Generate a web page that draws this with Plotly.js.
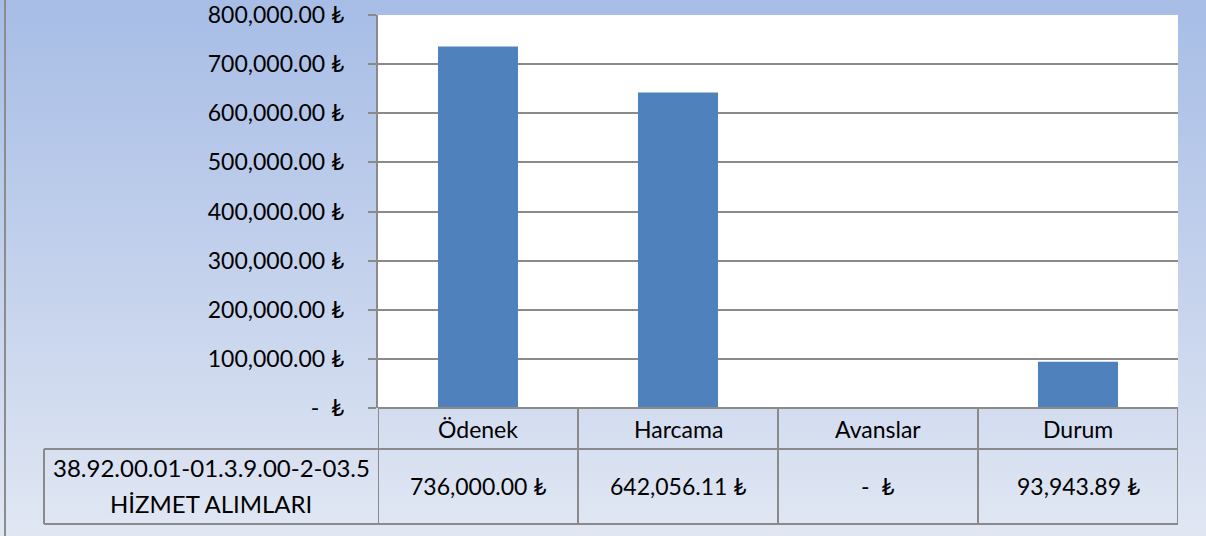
<!DOCTYPE html>
<html>
<head>
<meta charset="utf-8">
<script src="https://cdn.plot.ly/plotly-3.0.1.min.js"></script>
<style>
html,body{margin:0;padding:0;}
#wrap{position:relative;width:1206px;height:536px;background:linear-gradient(to bottom,#a7bde6 0%,#c3d1ec 50%,#e1e7f3 100%);}
#wrap:before{content:"";position:absolute;left:4px;top:0;width:2px;height:536px;background:#8c8c8c;}
#chart{position:absolute;left:0;top:0;width:1206px;height:536px;}
</style>
</head>
<body>
<div id="wrap"><div id="chart"></div></div>
<script>
const categories = ["Ödenek", "Harcama", "Avanslar", "Durum"];
const values = [736000.00, 642056.11, 0, 93943.89];
const rowLabelLines = ["38.92.00.01-01.3.9.00-2-03.5", "HİZMET ALIMLARI"];
const tickValues = [0, 100000, 200000, 300000, 400000, 500000, 600000, 700000, 800000];

function fmt(v){
  if (v === 0) return "-  ₺";
  return v.toLocaleString('en-US',{minimumFractionDigits:2,maximumFractionDigits:2}) + " ₺";
}

const FONT = "Lato, 'Open Sans', 'Noto Sans', sans-serif";
const FS = 23;
const gridCol = "#8a8a8a";
const idx = categories.map((c,i)=>i);

const H = 393;
const hdrBottom = -41/H;
const rowBottom = -116/H;
const labelLeft = (44-378)/800;
const labelCenter = (211-378)/800;

const shapes = [];
const lineStyle = {color: gridCol, width: 2};
shapes.push({type:'line', xref:'x', yref:'paper', x0:-0.5, x1:3.5, y0:0, y1:0, line:lineStyle});
shapes.push({type:'line', xref:'paper', yref:'paper', x0:labelLeft, x1:1, y0:hdrBottom, y1:hdrBottom, line:lineStyle});
shapes.push({type:'line', xref:'paper', yref:'paper', x0:labelLeft, x1:1, y0:rowBottom, y1:rowBottom, line:lineStyle});
shapes.push({type:'line', xref:'paper', yref:'paper', x0:labelLeft, x1:labelLeft, y0:hdrBottom, y1:rowBottom, line:lineStyle});
for (let i=0;i<=categories.length;i++){
  shapes.push({type:'line', xref:'x', yref:'paper', x0:i-0.5, x1:i-0.5, y0:0, y1:rowBottom, line:lineStyle});
}

const annotations = [];
categories.forEach((c,i)=>{
  annotations.push({xref:'x', yref:'paper', x:i, y:hdrBottom/2, text:c, showarrow:false,
    font:{family:FONT, size:FS, color:'#000'}, xanchor:'center', yanchor:'middle'});
  annotations.push({xref:'x', yref:'paper', x:i, y:(hdrBottom+rowBottom)/2, text:fmt(values[i]), showarrow:false,
    font:{family:FONT, size:FS, color:'#000'}, xanchor:'center', yanchor:'middle'});
});
annotations.push({xref:'paper', yref:'paper', x:labelCenter, y:-(467-408)/H, text:rowLabelLines[0], showarrow:false,
  font:{family:FONT, size:24, color:'#000'}, xanchor:'center', yanchor:'middle'});
annotations.push({xref:'paper', yref:'paper', x:labelCenter, y:-(503-408)/H, text:rowLabelLines[1], showarrow:false,
  font:{family:FONT, size:24, color:'#000'}, xanchor:'center', yanchor:'middle'});

const trace = {
  type:'bar', x: idx, y: values, width:0.4,
  marker:{color:'#4f81bd'}, hoverinfo:'none'
};

const layout = {
  width:1206, height:536,
  margin:{l:378, r:28, t:15, b:128, pad:0},
  paper_bgcolor:'rgba(0,0,0,0)', plot_bgcolor:'#ffffff',
  showlegend:false,
  xaxis:{type:'linear', range:[-0.5,3.5], showticklabels:false, showgrid:false, zeroline:false, showline:false, ticks:'', fixedrange:true},
  yaxis:{range:[0,800000], tickvals:tickValues, ticktext:tickValues.map(fmt),
    showgrid:true, gridcolor:gridCol, gridwidth:2, zeroline:false,
    showline:true, linecolor:gridCol, linewidth:2,
    ticks:'outside', ticklen:8, tickcolor:gridCol, tickwidth:2,
    ticklabelstandoff:19,
    tickfont:{family:FONT, size:FS, color:'#000'}, fixedrange:true},
  shapes: shapes,
  annotations: annotations
};

Plotly.newPlot('chart',[trace],layout,{displayModeBar:false, staticPlot:true});
</script>
</body>
</html>
